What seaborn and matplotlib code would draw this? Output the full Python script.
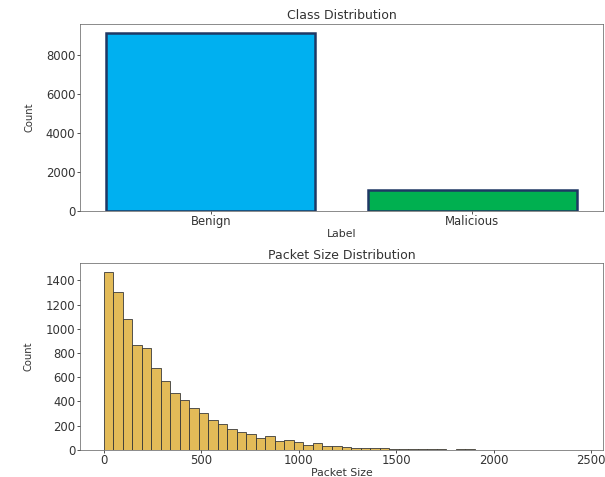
import matplotlib
matplotlib.use("Agg")
import matplotlib.pyplot as plt
import numpy as np
import pandas as pd
import seaborn as sns

# class counts
labels = ["Benign", "Malicious"]
label_counts = [9120, 1080]
label_colors = ["#00B0F0", "#00B050"]

# packet size histogram (50 bins between 0 and 2440)
size_min, size_max, n_bins = 0, 2440, 50
bin_counts = [1471, 1306, 1080, 868, 838, 675, 570, 471, 411, 342,
              306, 248, 212, 174, 149, 132, 94, 118, 74, 80,
              61, 41, 55, 30, 30, 22, 17, 14, 14, 11,
              8, 6, 4, 7, 3, 3, 1, 6, 3, 0,
              2, 2, 0, 0, 2, 2, 0, 2, 2, 1]

edges = np.linspace(size_min, size_max, n_bins + 1)
centers = (edges[:-1] + edges[1:]) / 2
df_cls = pd.DataFrame({"Label": labels, "Count": label_counts})
df_pkt = pd.DataFrame({"Packet Size": centers, "n": bin_counts})

plt.rcParams["text.color"] = "#333333"
plt.rcParams["xtick.labelcolor"] = "#333333"
plt.rcParams["ytick.labelcolor"] = "#333333"
plt.rcParams["axes.labelcolor"] = "#333333"
plt.rcParams["axes.edgecolor"] = "#555555"

fig, (ax1, ax2) = plt.subplots(2, 1, figsize=(605 / 60, 477 / 60), dpi=60)
fig.subplots_adjust(left=0.132, right=0.997, top=0.950, bottom=0.057, hspace=0.278)

# ▒ class distribution
sns.barplot(data=df_cls, x="Label", y="Count", hue="Label", palette=label_colors,
            saturation=1, edgecolor="#1F3864", linewidth=3, ax=ax1, legend=False)
ax1.set_title("Class Distribution", fontsize=15, pad=6)
ax1.set_xlabel("Label", fontsize=13, labelpad=1)
ax1.set_ylabel("Count", fontsize=12, labelpad=14)

# ▒ packet size distribution
sns.histplot(data=df_pkt, x="Packet Size", weights="n", bins=n_bins,
             binrange=(size_min, size_max), color="goldenrod",
             edgecolor="#3a3a3a", ax=ax2)
ax2.set_title("Packet Size Distribution", fontsize=15, pad=4)
ax2.set_xlabel("Packet Size", fontsize=13, labelpad=1)
ax2.set_ylabel("Count", fontsize=12, labelpad=14)
ax2.set_xticks([0, 500, 1000, 1500, 2000, 2500])
ax2.set_xlim(-122, 2562)

for ax in (ax1, ax2):
    ax.tick_params(labelsize=14, pad=2)

fig.savefig("out.png", dpi=60)
